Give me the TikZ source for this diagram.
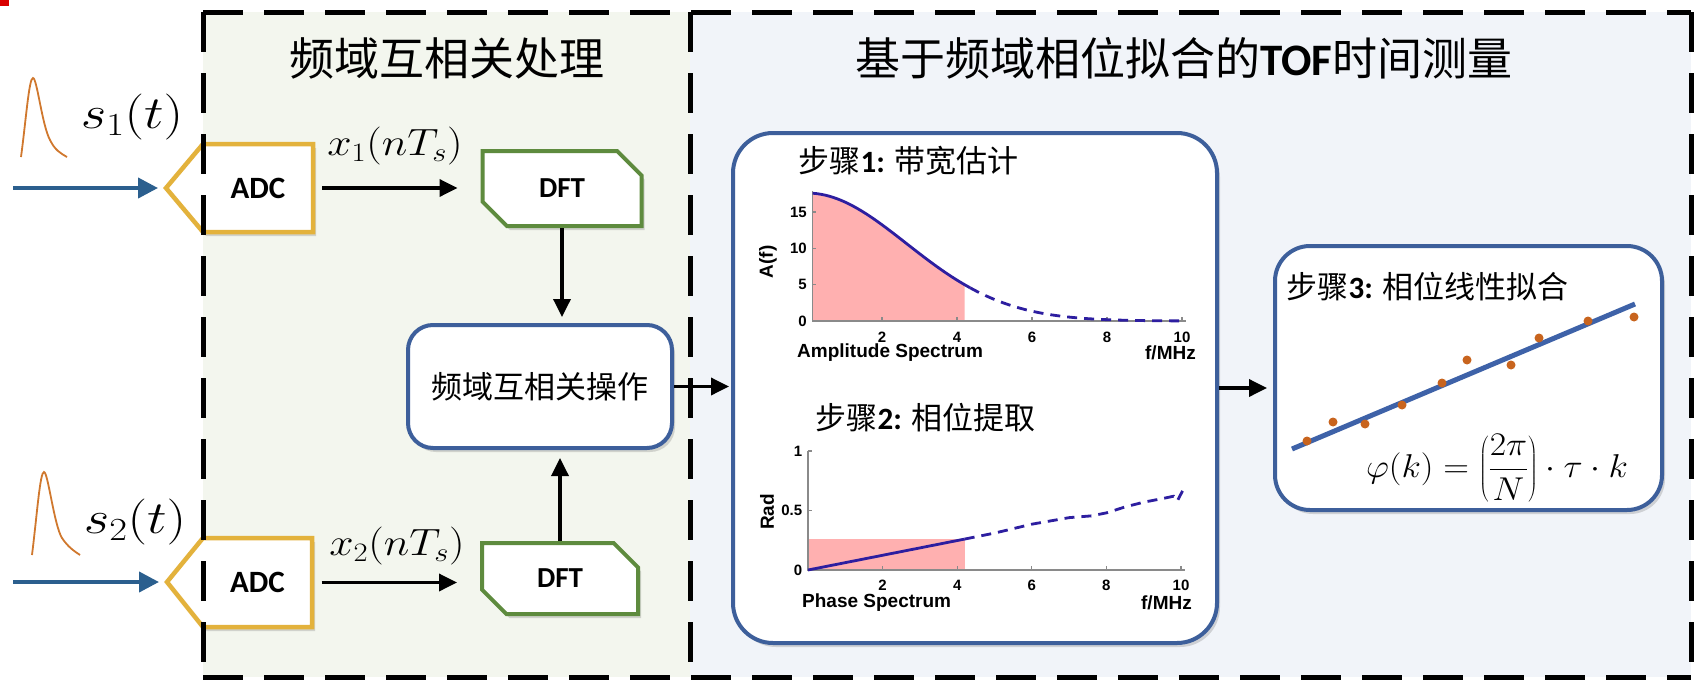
\documentclass[tikz,border=0pt]{standalone}
\usepackage{fix-cm}
\usepackage{graphicx}
\usepackage{fontspec}
\newfontfamily\cjk{Noto Sans CJK SC}
\newfontfamily\calib{Carlito}
\newfontfamily\plotf{Liberation Sans}
\usetikzlibrary{arrows.meta,shapes.misc,shadows}
\definecolor{bgleft}{HTML}{F3F6EE}
\definecolor{bgright}{HTML}{F1F4F9}
\definecolor{adcgold}{HTML}{E3B23C}
\definecolor{dftgreen}{HTML}{5E8B3E}
\definecolor{boxblue}{HTML}{3D5F9B}
\definecolor{arrblue}{HTML}{2B5F8E}
\definecolor{pulseorange}{HTML}{D0782E}
\definecolor{pinkfill}{HTML}{FFB0B0}
\definecolor{curvenavy}{RGB}{45,30,160}
\definecolor{axisgray}{HTML}{8A8A8A}
\definecolor{fitblue}{HTML}{3E62A8}
\definecolor{dotorange}{HTML}{C8641E}
\tikzset{
  myshadow/.style={drop shadow={opacity=0.3,shadow xshift=3pt,shadow yshift=-4pt}},
  arr/.style={line width=3.5pt,-{Triangle[length=18pt,width=17pt]}},
  barr/.style={line width=4pt,draw=arrblue,-{Triangle[length=20pt,width=20pt,fill=arrblue]}},
  adcshape/.style={draw=adcgold,line width=4.5pt,fill=white,line join=miter,myshadow},
  adctext/.style={minimum width=110pt,minimum height=88pt,inner sep=0pt,font=\calib\bfseries\fontsize{31}{36}\selectfont},
  dftbox/.style={chamfered rectangle,chamfered rectangle corners={north east,south west},
    chamfered rectangle xsep=15pt,chamfered rectangle ysep=15pt,draw=dftgreen,line width=4pt,
    fill=white,inner sep=0pt,font=\calib\bfseries\fontsize{29}{34}\selectfont,myshadow},
  stepbox/.style={draw=boxblue,line width=4pt,fill=white,myshadow},
  cjktitle/.style={font=\cjk\fontsize{45}{52}\selectfont},
  steptitle/.style={anchor=west,font=\cjk\fontsize{31}{36}\selectfont},
  mathlab/.style={inner sep=0pt},
  pulse/.style={draw=pulseorange,line width=1.8pt},
  curve/.style={draw=curvenavy,line width=2.8pt},
  dcurve/.style={curve,dash pattern=on 10pt off 7pt},
  axisline/.style={draw=axisgray,line width=1.3pt},
  ticklab/.style={inner sep=0pt,font=\plotf\bfseries\fontsize{15}{17}\selectfont},
  axlab/.style={inner sep=0pt,font=\plotf\bfseries\fontsize{19}{22}\selectfont},
  border/.style={line width=5pt,dash pattern=on 40pt off 21pt}
}
\begin{document}
\begin{tikzpicture}[x=1pt,y=-1pt]
\useasboundingbox (0,0) rectangle (1696,680);
% backgrounds
\fill[white] (0,0) rectangle (1696,680);
\fill[bgleft] (203,12) rectangle (690,677);
\fill[bgright] (690,12) rectangle (1691,677);
\fill[red!85!black] (0,0) rectangle (9,6);

% titles
\node[cjktitle] (t1) at (447,58) {频域互相关处理};
\node[cjktitle] (t2) at (1184,58) {基于频域相位拟合的{\calib\bfseries TOF}时间测量};

% input pulses
\draw[pulse] (21,157) .. controls (26,120) and (29,78) .. (33,78) .. controls (37,78) and (42,125) .. (50,140) .. controls (55,150) and (60,153) .. (67,157);
\draw[pulse] (32,555) .. controls (37,515) and (40,472) .. (44,472) .. controls (48,472) and (54,525) .. (62,538) .. controls (68,547) and (74,551) .. (80,555);
\node[mathlab] (s1) at (132,117) {\fontsize{46}{54}\selectfont\scalebox{1.2}[1]{$s_1(t)$}};
\node[mathlab] (s2) at (135,522) {\fontsize{46}{54}\selectfont\scalebox{1.2}[1]{$s_2(t)$}};

% ADC blocks
\draw[adcshape] (166,188) -- (203,144) -- (313,144) -- (313,232) -- (203,232) -- cycle;
\node[adctext] (adc1) at (258,188) {ADC};
\coordinate (adc1tip) at (166,188);
\draw[adcshape] (167,582) -- (203,538) -- (312,538) -- (312,627) -- (203,627) -- cycle;
\node[adctext] (adc2) at (257.5,582.5) {ADC};
\coordinate (adc2tip) at (167,582);
\coordinate (in1) at (13,188);
\coordinate (in2) at (13,582);
\draw[barr,shorten >=8pt] (in1) -- (adc1tip);
\draw[barr,shorten >=8pt] (in2) -- (adc2tip);

% DFT blocks
\node[dftbox,minimum width=159pt,minimum height=75pt] (dft1) at (562,188.5) {DFT};
\node[dftbox,minimum width=156pt,minimum height=71pt] (dft2) at (560,578.5) {DFT};

\draw[arr,shorten <=9pt,shorten >=23pt] (adc1.east) -- (adc1.east -| dft1.west);
\draw[arr,shorten <=9pt,shorten >=23pt] (adc2.east) -- (adc2.east -| dft2.west);
\node[mathlab] (x1) at (395,146) {\fontsize{38}{44}\selectfont\scalebox{1.15}[1]{$x_1(nT_s)$}};
\node[mathlab] (x2) at (397,546) {\fontsize{38}{44}\selectfont\scalebox{1.15}[1]{$x_2(nT_s)$}};

% cross-correlation box
\node[stepbox,rounded corners=25pt,minimum width=264pt,minimum height=123pt,font=\cjk\fontsize{31}{36}\selectfont] (op) at (540,386.5) {频域互相关操作};
\draw[arr,shorten >=6pt] (dft1.south) -- (dft1.south |- op.north);
\draw[arr,shorten >=8pt] (dft2.north) -- (dft2.north |- op.south);

% big step box
\node[stepbox,rounded corners=40pt,minimum width=484pt,minimum height=510pt] (big) at (975,388) {};
\draw[arr,shorten >=2pt] (op.east) -- (op.east -| big.west);

% step 3 box
\node[stepbox,rounded corners=35pt,minimum width=387pt,minimum height=264pt] (s3) at (1468.5,378) {};
\draw[arr,shorten >=6pt] (big.east) -- (big.east -| s3.west);

% step titles
\node[steptitle] (st1) at (795,161) {步骤{\calib\bfseries 1:} 带宽估计};
\node[steptitle] (st2) at (812,418) {步骤{\calib\bfseries 2:} 相位提取};
\node[steptitle] (st3) at (1283,287) {步骤{\calib\bfseries 3:} 相位线性拟合};

% plot 1: amplitude spectrum
\begin{scope}[shift={(807,321)},xscale=37.5,yscale=-7.27]
  \fill[pinkfill] (0.15,0) -- plot[domain=0.15:4.2,samples=40] (\x,{17.6*exp(-(\x*\x)/14.02)}) -- (4.2,0) -- cycle;
  \draw[axisline] (0.15,17.9) -- (0.15,0) -- (10.1,0);
  \foreach \t in {2,4,6,8,10} \draw[axisline] (\t,0) -- ++(0,0.5);
  \foreach \t in {5,10,15} \draw[axisline] (0.15,\t) -- ++(0.1,0);
  \draw[curve] plot[domain=0.15:4.35,samples=40] (\x,{17.6*exp(-(\x*\x)/14.02)});
  \draw[dcurve] plot[domain=4.35:10,samples=40] (\x,{17.6*exp(-(\x*\x)/14.02)});
  \foreach \t in {2,4,6,8,10} \node[ticklab] at (\t,-2.2) {\t};
  \foreach \t in {0,5,10,15} \node[ticklab,anchor=east] at (0.0,\t) {\t};
\end{scope}
\node[axlab,rotate=90] (ylab1) at (768,262) {A(f)};
\node[axlab,anchor=west] (xl1) at (797,353) {Amplitude Spectrum};
\node[axlab,anchor=east] (xu1) at (1196,353) {f/MHz};

% plot 2: phase spectrum
\begin{scope}[shift={(808,570)},xscale=37.3,yscale=-119]
  \fill[pinkfill] (0,0) rectangle (4.2,0.26);
  \draw[axisline] (0,1) -- (0,0) -- (10.1,0);
  \foreach \t in {2,4,6,8,10} \draw[axisline] (\t,0) -- ++(0,0.03);
  \foreach \t in {0.5,1} \draw[axisline] (0,\t) -- ++(0.1,0);
  \draw[curve] (0,0) -- (4.2,0.26);
  \draw[dcurve] (4.2,0.26) -- (5,0.31) -- (6,0.385) -- (7,0.44) -- (7.6,0.455) -- (8,0.48) -- (8.5,0.53) -- (9,0.57) -- (9.5,0.6) -- (9.8,0.62) -- (9.9,0.58) -- (10.1,0.7);
  \foreach \t in {2,4,6,8,10} \node[ticklab] at (\t,-0.13) {\t};
  \node[ticklab,anchor=east] at (-0.15,0) {0};
  \node[ticklab,anchor=east] at (-0.15,0.5) {0.5};
  \node[ticklab,anchor=east] at (-0.15,1) {1};
\end{scope}
\node[axlab,rotate=90] (ylab2) at (767,512) {Rad};
\node[axlab,anchor=west] (xl2) at (802,603) {Phase Spectrum};
\node[axlab,anchor=east] (xu2) at (1192,603) {f/MHz};

% step 3 fit
\coordinate (fa) at (1292,449);
\coordinate (fb) at (1635,304);
\draw[fitblue,line width=5pt] (fa) -- (fb);
\foreach \px/\py in {1307/441,1333/422,1365/424,1402/405,1442/383,1467/360,1511/365,1539/338,1588/321,1634/317}
  \fill[dotorange] (\px,\py) circle[radius=4.5pt];
\node[mathlab] (fml) at (1497,468) {\fontsize{33}{40}\selectfont\scalebox{1.08}[1]{$\varphi(k)=\left({\displaystyle\frac{2\pi}{N}}\right)\cdot\tau\cdot k$}};

% dashed borders
\draw[border] (203,12) -- (1691,12);
\draw[border] (203,677) -- (1691,677);
\draw[border] (203,12) -- (203,677);
\draw[border] (1691,12) -- (1691,677);
\draw[border] (690,12) -- (690,677);
\end{tikzpicture}
\end{document}
